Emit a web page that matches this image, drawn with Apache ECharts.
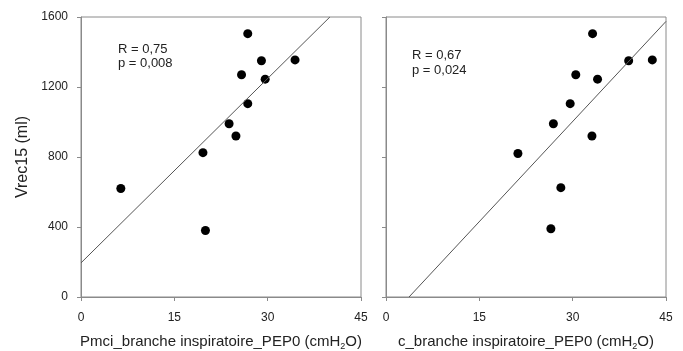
<!DOCTYPE html>
<html>
<head>
<meta charset="utf-8">
<script src="https://cdn.jsdelivr.net/npm/echarts@6/dist/echarts.min.js"></script>
<style>
  html, body { margin: 0; padding: 0; background: #fff; }
  #chart { width: 683px; height: 351px; }
</style>
</head>
<body>
<div id="chart"></div>
<script>
// left panel: Pmci
const pmciPoints = [
  [6.4, 620], [19.6, 825], [20.0, 380], [23.8, 990], [24.9, 920], [25.8, 1270],
  [26.8, 1505], [26.8, 1105], [29.0, 1350], [29.6, 1245], [34.4, 1355]
];
const pmciFit = [[0, 195], [40, 1600]];
const pmciStats = ['R = 0,75', 'p = 0,008'];

// right panel: c
const cPoints = [
  [21.2, 820], [26.5, 390], [26.9, 990], [28.1, 625], [29.6, 1105], [30.5, 1270],
  [33.1, 920], [33.2, 1505], [34.0, 1245], [39.0, 1350], [42.8, 1355]
];
const cFit = [[3.7, 0], [45, 1575]];
const cStats = ['R = 0,67', 'p = 0,024'];

const xTicks = [0, 15, 30, 45];
const yTicks = [0, 400, 800, 1200, 1600];

const font = 'Liberation Sans, Arial, sans-serif';
const axisColor = '#8a8a8a';
const textColor = '#222';

function xAxisFor(gridIndex, prefix) {
  return {
    type: 'value', gridIndex: gridIndex, min: xTicks[0], max: xTicks[xTicks.length - 1], interval: 15,
    axisLine: { show: true, lineStyle: { color: axisColor } },
    axisTick: { show: true, inside: false, length: 4, lineStyle: { color: axisColor } },
    axisLabel: { color: textColor, fontFamily: font, fontSize: 12, margin: 15 },
    splitLine: { show: false },
    name: '{t|' + prefix + '_branche inspiratoire_PEP0 (cmH}{s|2}{t|O)}',
    nameLocation: 'middle', nameGap: 36,
    nameTextStyle: {
      color: textColor, fontFamily: font,
      rich: {
        t: { fontSize: 15, fontFamily: font, color: textColor, lineHeight: 18 },
        s: { fontSize: 9, fontFamily: font, color: textColor, lineHeight: 18, verticalAlign: 'bottom', padding: [7, 0, 0, 0] }
      }
    }
  };
}

function yAxisFor(gridIndex, showLabels) {
  return {
    type: 'value', gridIndex: gridIndex, min: yTicks[0], max: yTicks[yTicks.length - 1], interval: 400,
    axisLine: { show: true, lineStyle: { color: axisColor } },
    axisTick: { show: true, inside: false, length: 4, lineStyle: { color: axisColor } },
    axisLabel: {
      show: showLabels, color: textColor, fontFamily: font, fontSize: 12, margin: 13,
      formatter: function (v) { return String(v); }
    },
    splitLine: { show: false },
    name: showLabels ? 'Vrec15 (ml)' : '',
    nameLocation: 'middle', nameGap: 50, nameRotate: 90,
    nameTextStyle: { color: textColor, fontFamily: font, fontSize: 16 }
  };
}

function scatterSeries(i, data) {
  return {
    type: 'scatter', xAxisIndex: i, yAxisIndex: i, data: data,
    symbol: 'circle', symbolSize: 9,
    itemStyle: { color: '#000', opacity: 1 },
    silent: true
  };
}

function fitSeries(i, data) {
  return {
    type: 'line', xAxisIndex: i, yAxisIndex: i, data: data,
    showSymbol: false, symbol: 'none', clip: true,
    lineStyle: { color: '#555', width: 1 },
    silent: true
  };
}

const chart = echarts.init(document.getElementById('chart'), null, { renderer: 'canvas' });
chart.setOption({
  animation: false,
  backgroundColor: '#fff',
  grid: [
    { left: 81, top: 17, width: 280, height: 280, outerBoundsMode: 'none', show: true, borderColor: axisColor, borderWidth: 1, backgroundColor: 'transparent' },
    { left: 386, top: 17, width: 280, height: 280, outerBoundsMode: 'none', show: true, borderColor: axisColor, borderWidth: 1, backgroundColor: 'transparent' }
  ],
  xAxis: [xAxisFor(0, 'Pmci'), xAxisFor(1, 'c')],
  yAxis: [yAxisFor(0, true), yAxisFor(1, false)],
  graphic: [
    { type: 'text', left: 118, top: 42, style: { text: pmciStats.join('\n'), font: '13px ' + font, fill: textColor, lineHeight: 14 } },
    { type: 'text', left: 412, top: 48, style: { text: cStats.join('\n'), font: '13px ' + font, fill: textColor, lineHeight: 15 } }
  ],
  series: [
    fitSeries(0, pmciFit), scatterSeries(0, pmciPoints),
    fitSeries(1, cFit), scatterSeries(1, cPoints)
  ]
});
</script>
</body>
</html>
